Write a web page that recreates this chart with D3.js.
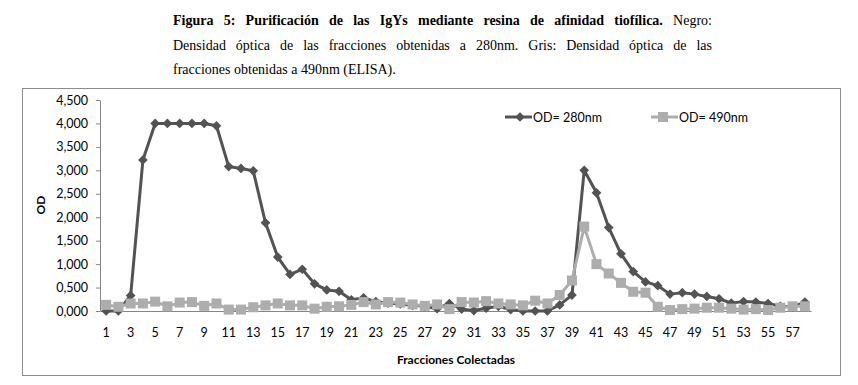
<!DOCTYPE html>
<html>
<head>
<meta charset="utf-8">
<script src="https://cdn.jsdelivr.net/npm/d3@7"></script>
<style>
  body { margin: 0; background: #fff; }
  svg { display: block; }
</style>
</head>
<body>
<div id="chart"></div>
<script>
// fractions collected (categories)
const fractions = d3.range(1, 59);

// optical density at 280nm (black)
const od280 = [0, 0, 0.33, 3.22, 4.0, 4.0, 4.0, 4.0, 4.0, 3.95,
  3.08, 3.04, 2.99, 1.88, 1.15, 0.78, 0.89, 0.58, 0.45, 0.42,
  0.24, 0.28, 0.2, 0.17, 0.15, 0.12, 0.1, 0.05, 0.16, 0.04,
  0.01, 0.06, 0.1, 0.03, 0, 0, 0, 0.13, 0.34, 3.0,
  2.52, 1.78, 1.22, 0.84, 0.62, 0.54, 0.36, 0.39, 0.36, 0.31,
  0.26, 0.17, 0.2, 0.19, 0.16, 0.1, 0.09, 0.19];

// optical density at 490nm, ELISA (grey)
const od490 = [0.13, 0.09, 0.16, 0.16, 0.2, 0.1, 0.18, 0.19, 0.11, 0.16,
  0.03, 0.03, 0.08, 0.12, 0.16, 0.12, 0.12, 0.05, 0.09, 0.1,
  0.13, 0.19, 0.14, 0.19, 0.18, 0.14, 0.11, 0.14, 0.04, 0.19,
  0.18, 0.21, 0.16, 0.14, 0.12, 0.22, 0.16, 0.34, 0.65, 1.8,
  1.0, 0.8, 0.6, 0.41, 0.39, 0.09, 0.02, 0.04, 0.05, 0.07,
  0.07, 0.05, 0.03, 0.04, 0.02, 0.07, 0.1, 0.1];

const yTicks = [0, 0.5, 1, 1.5, 2, 2.5, 3, 3.5, 4, 4.5];
const xTicks = fractions.filter(d => d % 2 === 1);

const seriesNames = ["OD= 280nm", "OD= 490nm"];

const titleLines = [
  [{t: "Figura 5: Purificación de las IgYs mediante resina de afinidad tiofílica.", b: true}, {t: " Negro:", b: false}],
  [{t: "Densidad óptica de las fracciones obtenidas a 280nm. Gris: Densidad óptica de las", b: false}],
  [{t: "fracciones obtenidas a 490nm (ELISA).", b: false}]
];

const width = 858, height = 385;
const dark = "#535353", light = "#adadad";

const svg = d3.select("#chart")
  .append("svg")
  .attr("width", width)
  .attr("height", height);

// caption above the chart
const capX = 173, capW = 539;
titleLines.forEach((line, i) => {
  const t = svg.append("text")
    .attr("x", capX)
    .attr("y", 25 + i * 24.5)
    .attr("font-family", "'Liberation Serif', 'Times New Roman', serif")
    .attr("font-size", 14)
    .attr("fill", "#000");
  line.forEach(p => {
    t.append("tspan").attr("font-weight", p.b ? "bold" : "normal").text(p.t);
  });
  // justify first two lines
  if (i < 2) {
    const len = t.node().getComputedTextLength();
    const spaces = line.map(p => p.t).join("").split(" ").length - 1;
    t.attr("word-spacing", (capW - len) / spaces);
  }
});

// chart frame
svg.append("rect")
  .attr("x", 22.5).attr("y", 88.5)
  .attr("width", 818).attr("height", 287)
  .attr("fill", "none")
  .attr("stroke", "#8c8c8c");

const x = d3.scaleBand().domain(fractions).range([100, 811]);
const y = d3.scaleLinear().domain([0, 4.5]).range([311, 100]);
const cx = d => x(d) + x.bandwidth() / 2;

const locale = d3.formatLocale({decimal: ",", thousands: ".", grouping: [3], currency: ["", ""]});
const fmt = locale.format(".3f");

const font = "Lato, 'Open Sans', sans-serif";

const yAxis = svg.append("g")
  .attr("transform", "translate(100,0)")
  .call(d3.axisLeft(y).tickValues(yTicks).tickFormat(fmt).tickSize(4).tickSizeOuter(0).tickPadding(8));

const xAxis = svg.append("g")
  .attr("transform", "translate(0,311)")
  .call(d3.axisBottom(x).tickValues(xTicks).tickSize(0).tickSizeOuter(0).tickPadding(17));

[yAxis, xAxis].forEach(g => {
  g.selectAll("path, line").attr("stroke", "#868686");
  g.selectAll("text")
    .attr("font-family", font)
    .attr("font-size", 12.5)
    .attr("fill", "#000");
});

// axis titles
svg.append("text")
  .attr("transform", "translate(45,205) rotate(-90)")
  .attr("text-anchor", "middle")
  .attr("font-family", font)
  .attr("font-weight", "bold")
  .attr("font-size", 12)
  .text("OD");

svg.append("text")
  .attr("x", 456).attr("y", 364)
  .attr("text-anchor", "middle")
  .attr("font-family", font)
  .attr("font-weight", "bold")
  .attr("font-size", 12)
  .text("Fracciones Colectadas");

const line = d3.line().x((d, i) => cx(fractions[i])).y(d => y(d));
const diamond = d3.symbol().type(d3.symbolDiamond2).size(60);

// 280nm series
svg.append("path")
  .datum(od280)
  .attr("fill", "none")
  .attr("stroke", dark)
  .attr("stroke-width", 3)
  .attr("stroke-linejoin", "round")
  .attr("d", line);

svg.selectAll(".m280")
  .data(od280)
  .enter().append("path")
  .attr("class", "m280")
  .attr("d", diamond)
  .attr("transform", (d, i) => `translate(${cx(fractions[i])},${y(d)})`)
  .attr("fill", dark);

// 490nm series
svg.append("path")
  .datum(od490)
  .attr("fill", "none")
  .attr("stroke", light)
  .attr("stroke-width", 3)
  .attr("stroke-linejoin", "round")
  .attr("d", line);

svg.selectAll(".m490")
  .data(od490)
  .enter().append("rect")
  .attr("class", "m490")
  .attr("x", (d, i) => cx(fractions[i]) - 5)
  .attr("y", d => y(d) - 5)
  .attr("width", 10)
  .attr("height", 10)
  .attr("fill", light);

// legend
const legend = [
  {name: seriesNames[0], color: dark, x0: 505},
  {name: seriesNames[1], color: light, x0: 651}
];
legend.forEach(l => {
  const g = svg.append("g").attr("transform", `translate(${l.x0},117)`);
  g.append("line").attr("x1", 0).attr("x2", 27).attr("stroke", l.color).attr("stroke-width", 3);
  if (l.color === dark) {
    g.append("path").attr("d", diamond).attr("transform", "translate(15,0)").attr("fill", l.color);
  } else {
    g.append("rect").attr("x", 7).attr("y", -5).attr("width", 10).attr("height", 10).attr("fill", l.color);
  }
  g.append("text")
    .attr("x", 28).attr("y", 4.5)
    .attr("font-family", font)
    .attr("font-size", 12.5)
    .text(l.name);
});
</script>
</body>
</html>
